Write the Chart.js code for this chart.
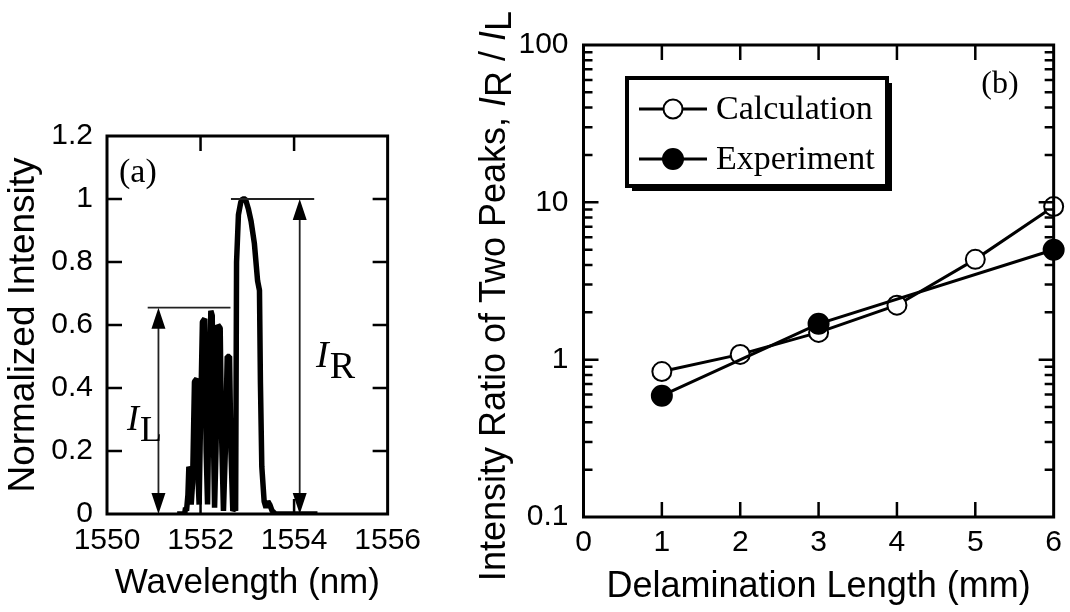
<!DOCTYPE html>
<html>
<head>
<meta charset="utf-8">
<script src="https://cdn.jsdelivr.net/npm/chart.js@4.4.1/dist/chart.umd.min.js"></script>
<style>
  html, body { margin: 0; padding: 0; background: #fff; }
  #wrap { position: relative; width: 1070px; height: 612px; }
  #specCanvas { position: absolute; left: 0; top: 0; }
  #ratioCanvas { position: absolute; left: 430px; top: 0; }
</style>
</head>
<body>
<div id="wrap">
  <canvas id="specCanvas" width="430" height="612"></canvas>
  <canvas id="ratioCanvas" width="640" height="612"></canvas>
</div>
<script>
// (a) measured spectrum
const wavelengths = [
  1551.50, 1551.66, 1551.68, 1551.70, 1551.73, 1551.75, 1551.78, 1551.80, 1551.83, 1551.87,
  1551.92, 1551.95, 1551.97, 1552.00, 1552.04, 1552.09, 1552.12, 1552.15, 1552.18, 1552.22,
  1552.25, 1552.27, 1552.30, 1552.33, 1552.37, 1552.42, 1552.45, 1552.49, 1552.53, 1552.57,
  1552.62, 1552.65, 1552.69, 1552.73, 1552.75, 1552.77, 1552.81, 1552.86, 1552.90, 1552.96,
  1553.02, 1553.08, 1553.15, 1553.22, 1553.26, 1553.28, 1553.31, 1553.36, 1553.40, 1553.44,
  1553.48, 1553.53, 1553.60, 1554.50
];
const intensities = [
  0, 0, 0.02, 0.01, 0.06, 0.15, 0.14, 0.03, 0.10, 0.42,
  0.43, 0.10, 0.03, 0.30, 0.61, 0.62, 0.20, 0.03, 0.35, 0.645,
  0.63, 0.30, 0.02, 0.20, 0.60, 0.59, 0.25, 0.01, 0.20, 0.50,
  0.50, 0.20, 0.01, 0.02, 0.01, 0.80, 0.95, 0.99, 1.0, 1.0,
  0.97, 0.93, 0.86, 0.74, 0.71, 0.42, 0.15, 0.04, 0.02, 0.04,
  0.03, 0.01, 0, 0
];
const wavelengthTicks = [1552, 1554];
const intensityTicks = [0.2, 0.4, 0.6, 0.8, 1.0];
const peakLeft = 0.655;   // I_L level
const peakRight = 1.0;    // I_R level

// (b) intensity ratio vs delamination length
const calcLength = [1, 2, 3, 4, 5, 6];
const calcRatio = [0.84, 1.08, 1.49, 2.22, 4.34, 9.4];
const expLength = [1, 3, 6];
const expRatio = [0.59, 1.69, 5.0];
const lengthTicks = [1, 2, 3, 4, 5];
const ratioLabels = [0.1, 1, 10, 100];

const SANS = "'Liberation Sans', Arial, sans-serif";
const SERIF = "'Liberation Serif', 'Times New Roman', serif";

function frame(xTicks, yTicks) {
  return {
    id: 'frame',
    afterDatasetsDraw(chart) {
      const { ctx, chartArea: a, scales } = chart;
      ctx.save();
      ctx.strokeStyle = '#000';
      ctx.lineWidth = 3;
      ctx.strokeRect(a.left, a.top, a.width, a.height);
      ctx.lineWidth = 2.5;
      ctx.beginPath();
      xTicks.forEach(v => {
        const px = scales.x.getPixelForValue(v);
        ctx.moveTo(px, a.bottom); ctx.lineTo(px, a.bottom - 15);
        ctx.moveTo(px, a.top); ctx.lineTo(px, a.top + 15);
      });
      yTicks.forEach(([v, len]) => {
        const py = scales.y.getPixelForValue(v);
        ctx.moveTo(a.left, py); ctx.lineTo(a.left + len, py);
        ctx.moveTo(a.right, py); ctx.lineTo(a.right - len, py);
      });
      ctx.stroke();
      ctx.restore();
    }
  };
}

function arrowV(ctx, x, yTop, yBot) {
  ctx.beginPath();
  ctx.moveTo(x, yTop + 18); ctx.lineTo(x, yBot - 18);
  ctx.stroke();
  ctx.beginPath();
  ctx.moveTo(x, yTop); ctx.lineTo(x - 7, yTop + 21); ctx.lineTo(x + 7, yTop + 21); ctx.closePath();
  ctx.moveTo(x, yBot); ctx.lineTo(x - 7, yBot - 21); ctx.lineTo(x + 7, yBot - 21); ctx.closePath();
  ctx.fill();
}

function subLabel(ctx, x, y, main, sub, size) {
  ctx.font = `italic ${size}px ${SERIF}`;
  ctx.fillText(main, x, y);
  const w = ctx.measureText(main).width;
  ctx.font = `${size}px ${SERIF}`;
  ctx.fillText(sub, x + w + 1, y + 11);
}

const specAnnotations = {
  id: 'specAnnotations',
  afterDatasetsDraw(chart) {
    const { ctx, scales: { x, y } } = chart;
    ctx.save();
    ctx.strokeStyle = '#222';
    ctx.fillStyle = '#000';
    ctx.lineWidth = 1.8;
    const yL = y.getPixelForValue(peakLeft), yR = y.getPixelForValue(peakRight), y0 = y.getPixelForValue(0);
    ctx.beginPath();
    ctx.moveTo(x.getPixelForValue(1550.87), yL); ctx.lineTo(x.getPixelForValue(1552.64), yL);
    ctx.moveTo(x.getPixelForValue(1552.65), yR); ctx.lineTo(x.getPixelForValue(1554.43), yR);
    ctx.stroke();
    arrowV(ctx, x.getPixelForValue(1551.10), yL, y0);
    arrowV(ctx, x.getPixelForValue(1554.12), yR, y0);
    ctx.textBaseline = 'alphabetic';
    ctx.textAlign = 'left';
    subLabel(ctx, 127, 430, 'I', 'L', 36);
    subLabel(ctx, 316, 367, 'I', 'R', 38);
    ctx.font = `34px ${SERIF}`;
    ctx.fillText('(a)', 119, 182);
    ctx.restore();
  }
};

new Chart(document.getElementById('specCanvas'), {
  type: 'line',
  data: {
    datasets: [{
      data: wavelengths.map((w, i) => ({ x: w, y: intensities[i] })),
      borderColor: '#000',
      borderWidth: 5.5,
      pointRadius: 0,
      tension: 0,
      borderJoinStyle: 'bevel'
    }]
  },
  options: {
    responsive: false,
    animation: false,
    events: [],
    layout: { padding: { left: 0, top: 136, right: 37, bottom: 0 } },
    plugins: { legend: { display: false }, tooltip: { enabled: false } },
    scales: {
      x: {
        type: 'linear', min: 1550, max: 1556,
        grid: { display: false, drawTicks: false }, border: { display: false },
        ticks: { stepSize: 2, autoSkip: false, maxRotation: 0, padding: 9, color: '#000', font: { family: SANS, size: 30 },
          callback: v => String(v) },
        title: { display: true, text: 'Wavelength (nm)', color: '#000', font: { family: SANS, size: 35 }, padding: { top: 0, bottom: 8 } },
        afterFit(s) { s.height = 98; }
      },
      y: {
        min: 0, max: 1.2,
        grid: { display: false, drawTicks: false }, border: { display: false },
        ticks: { stepSize: 0.2, padding: 14, color: '#000', font: { family: SANS, size: 30 },
          callback: v => String(Number(v.toFixed(1))) },
        title: { display: true, text: 'Normalized Intensity', color: '#000', font: { family: SANS, size: 37 }, padding: { top: 2, bottom: 0 } },
        afterFit(s) { s.width = 107; }
      }
    }
  },
  plugins: [frame(wavelengthTicks, intensityTicks.map(v => [v, 15])), specAnnotations]
});

// minor ticks for the log axis
const logTicks = [];
[0.1, 1, 10].forEach(d => {
  for (let k = 2; k <= 9; k++) logTicks.push([d * k, 9]);
});
logTicks.push([1, 15], [10, 15]);

const ratioDecor = {
  id: 'ratioDecor',
  afterDraw(chart) {
    const { ctx } = chart;
    const sets = chart.data.datasets;
    ctx.save();
    // legend box with shadow
    ctx.fillStyle = '#000';
    ctx.fillRect(202, 83, 260, 108);
    ctx.fillStyle = '#fff';
    ctx.fillRect(197, 78, 260, 108);
    ctx.strokeStyle = '#000';
    ctx.lineWidth = 4;
    ctx.strokeRect(197, 78, 260, 108);
    const rows = [[sets[1], 109], [sets[0], 159]];
    rows.forEach(([ds, yy]) => {
      ctx.lineWidth = 3;
      ctx.beginPath(); ctx.moveTo(209, yy); ctx.lineTo(277, yy); ctx.stroke();
      ctx.beginPath(); ctx.arc(243, yy, ds.pointRadius, 0, Math.PI * 2);
      ctx.fillStyle = ds.pointBackgroundColor; ctx.fill();
      ctx.lineWidth = ds.pointBorderWidth; ctx.stroke();
      ctx.fillStyle = '#000';
      ctx.font = `34px ${SERIF}`;
      ctx.textBaseline = 'middle';
      ctx.textAlign = 'left';
      ctx.fillText(ds.label, 286, yy + 1);
    });
    ctx.font = `32px ${SERIF}`;
    ctx.textAlign = 'center';
    ctx.fillText('(b)', 570, 85);
    // y axis title with italic symbols and subscripts
    const parts = [
      ['Intensity Ratio of Two Peaks, ', '', 0],
      ['I', 'italic ', 0], ['R', '', 6], [' / ', '', 0], ['I', 'italic ', 0], ['L', '', 6]
    ];
    ctx.translate(75, 296);
    ctx.rotate(-Math.PI / 2);
    ctx.textAlign = 'left';
    ctx.textBaseline = 'alphabetic';
    let total = 0;
    parts.forEach(p => { ctx.font = `${p[1]}36px ${SANS}`; total += ctx.measureText(p[0]).width; });
    let xx = -total / 2;
    parts.forEach(p => {
      ctx.font = `${p[1]}36px ${SANS}`;
      ctx.fillText(p[0], xx, p[2]);
      xx += ctx.measureText(p[0]).width;
    });
    ctx.restore();
  }
};

new Chart(document.getElementById('ratioCanvas'), {
  type: 'line',
  data: {
    datasets: [
      {
        label: 'Experiment',
        data: expLength.map((x, i) => ({ x, y: expRatio[i] })),
        borderColor: '#000', borderWidth: 3,
        pointRadius: 10, pointBorderWidth: 2, pointBackgroundColor: '#000', pointBorderColor: '#000',
        tension: 0, clip: false, order: 0
      },
      {
        label: 'Calculation',
        data: calcLength.map((x, i) => ({ x, y: calcRatio[i] })),
        borderColor: '#000', borderWidth: 3,
        pointRadius: 9.5, pointBorderWidth: 2, pointBackgroundColor: '#fff', pointBorderColor: '#000',
        tension: 0, clip: false, order: 1
      }
    ]
  },
  options: {
    responsive: false,
    animation: false,
    events: [],
    layout: { padding: { left: 0, top: 45, right: 13.5, bottom: 0 } },
    plugins: { legend: { display: false }, tooltip: { enabled: false } },
    scales: {
      x: {
        type: 'linear', min: 0, max: 6,
        grid: { display: false, drawTicks: false }, border: { display: false },
        ticks: { stepSize: 1, autoSkip: false, maxRotation: 0, padding: 8, color: '#000', font: { family: SANS, size: 30 } },
        title: { display: true, text: 'Delamination Length (mm)', color: '#000', font: { family: SANS, size: 36 }, padding: { top: 0, bottom: 3 } },
        afterFit(s) { s.height = 95; }
      },
      y: {
        type: 'logarithmic', min: 0.1, max: 100,
        grid: { display: false, drawTicks: false }, border: { display: false },
        ticks: { padding: 15, color: '#000', font: { family: SANS, size: 30 }, callback: v => String(v) },
        afterBuildTicks(s) { s.ticks = ratioLabels.map(v => ({ value: v, major: true })); },
        afterFit(s) { s.width = 153.5; }
      }
    }
  },
  plugins: [frame(lengthTicks, logTicks), ratioDecor]
});
</script>
</body>
</html>
